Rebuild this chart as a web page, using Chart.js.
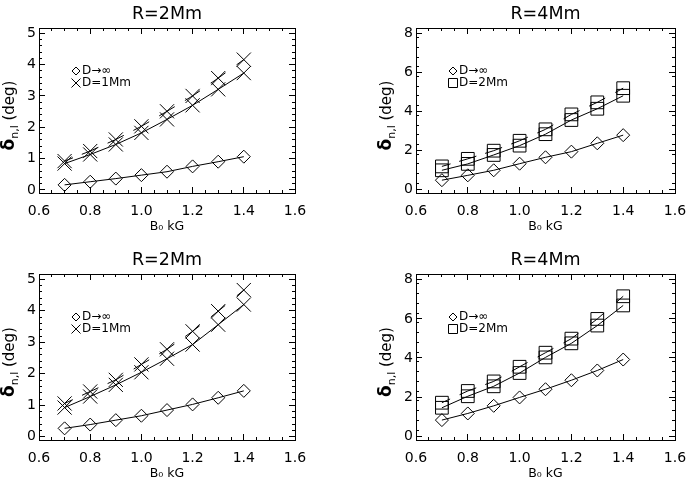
<!DOCTYPE html>
<html><head><meta charset="utf-8">
<script src="https://cdn.jsdelivr.net/npm/chart.js@4.4.1/dist/chart.umd.min.js"></script>
<style>
html,body{margin:0;padding:0;background:#fff;overflow:hidden}
#wrap{position:relative;width:688px;height:490px;overflow:hidden;background:#fff}
canvas{position:absolute}
</style></head><body><div id="wrap">
<canvas id="c1"></canvas><canvas id="c2"></canvas><canvas id="c3"></canvas><canvas id="c4"></canvas>
</div>
<script>
// ---------- data ----------
const bField = [0.7, 0.8, 0.9, 1.0, 1.1, 1.2, 1.3, 1.4];          // B0 (kG)
const xTickValues = [0.6, 0.8, 1.0, 1.2, 1.4, 1.6];
const yTicksR2 = [0, 1, 2, 3, 4, 5];
const yTicksR4 = [0, 2, 4, 6, 8];

// top-left  R=2Mm
const tlInf = [0.16, 0.26, 0.36, 0.47, 0.58, 0.75, 0.90, 1.06];
const tlUp  = [0.92, 1.24, 1.61, 2.03, 2.51, 3.00, 3.57, 4.16];
const tlLo  = [0.84, 1.13, 1.45, 1.82, 2.25, 2.70, 3.21, 3.73];
// top-right R=4Mm
const trInf = [0.46, 0.71, 0.97, 1.31, 1.64, 1.93, 2.36, 2.78];
const trUp  = [1.17, 1.56, 1.98, 2.49, 3.08, 3.85, 4.47, 5.20];
const trLo  = [0.97, 1.30, 1.76, 2.24, 2.83, 3.56, 4.14, 4.81];
// bottom-left R=2Mm
const blInf = [0.27, 0.39, 0.53, 0.67, 0.85, 1.03, 1.24, 1.46];
const blUp  = [1.06, 1.44, 1.81, 2.30, 2.78, 3.35, 3.99, 4.66];
const blLo  = [0.93, 1.28, 1.65, 2.05, 2.48, 2.93, 3.56, 4.20];
// bottom-right R=4Mm
const brInf = [0.82, 1.16, 1.55, 1.98, 2.40, 2.86, 3.36, 3.92];
const brUp  = [1.71, 2.31, 2.80, 3.55, 4.27, 4.99, 6.00, 7.16];
const brLo  = [1.45, 2.04, 2.55, 3.23, 4.03, 4.75, 5.66, 6.69];

const titles = ['R=2Mm', 'R=4Mm', 'R=2Mm', 'R=4Mm'];
const legendInf = 'D→∞';
const legendD = ['D=1Mm', 'D=2Mm', 'D=1Mm', 'D=2Mm'];
const xTitle = 'B₀ kG';

// ---------- layout / style ----------
const FONT = '"DejaVu Sans", sans-serif';
const panels = [
  {id:'c1', x:0,   y:0,   w:344, left:39, right:295, top:28, bottom:193, inf:tlInf, up:tlUp, lo:tlLo, title:titles[0], leg:legendD[0], mark:'crossRot', mr:10, yTicks:yTicksR2, ymin:-0.1, ymax:5.17, yMinor:0.2},
  {id:'c2', x:344, y:0,   w:344, left:72, right:331, top:28, bottom:193, inf:trInf, up:trUp, lo:trLo, title:titles[1], leg:legendD[1], mark:'rect', mr:9, yTicks:yTicksR4, ymin:-0.2, ymax:8.3, yMinor:0.5},
  {id:'c3', x:0,   y:245, w:344, left:39, right:295, top:29, bottom:195, inf:blInf, up:blUp, lo:blLo, title:titles[2], leg:legendD[2], mark:'crossRot', mr:10, yTicks:yTicksR2, ymin:-0.1, ymax:5.17, yMinor:0.2},
  {id:'c4', x:344, y:245, w:344, left:72, right:331, top:29, bottom:195, inf:brInf, up:brUp, lo:brLo, title:titles[3], leg:legendD[3], mark:'rect', mr:9, yTicks:yTicksR4, ymin:-0.2, ymax:8.3, yMinor:0.5}
];
const XAXIS_H = 52;
const TITLE_H = 29.4;

function drawMark(ctx, style, x, y, r) {
  ctx.beginPath();
  if (style === 'rectRot') {
    ctx.moveTo(x - r, y); ctx.lineTo(x, y - r); ctx.lineTo(x + r, y); ctx.lineTo(x, y + r); ctx.closePath();
  } else if (style === 'crossRot') {
    ctx.moveTo(x - r, y - r); ctx.lineTo(x + r, y + r); ctx.moveTo(x + r, y - r); ctx.lineTo(x - r, y + r);
  } else {
    ctx.rect(x - r, y - r, 2 * r, 2 * r);
  }
  ctx.stroke();
}

const decor = {
  id: 'decor',
  afterDraw(chart, args, o) {
    const ctx = chart.ctx, a = chart.chartArea;
    ctx.save();
    ctx.fillStyle = '#000'; ctx.strokeStyle = '#000'; ctx.lineWidth = 1;
    // legend
    ctx.font = '12px ' + FONT; ctx.textBaseline = 'middle'; ctx.textAlign = 'left';
    o.items.forEach((it, i) => {
      const y = a.top + 43 + i * 12;
      drawMark(ctx, it.style, a.left + 37, y, it.r);
      ctx.fillText(it.text, a.left + 43, y);
    });
    // y axis title with subscript
    const pieces = [
      {t:'δ', f:'bold 17px ' + FONT, dy:0},
      {t:'n,l', f:'11px ' + FONT, dy:4},
      {t:' (deg)', f:'15px ' + FONT, dy:0}
    ];
    let total = 0;
    pieces.forEach(p => { ctx.font = p.f; p.w = ctx.measureText(p.t).width; total += p.w; });
    ctx.translate(a.left - 31, (a.top + a.bottom) / 2 + 5);
    ctx.rotate(-Math.PI / 2);
    ctx.textBaseline = 'alphabetic';
    let x = -total / 2;
    pieces.forEach(p => { ctx.font = p.f; ctx.fillText(p.t, x, 5.5 + p.dy); x += p.w; });
    ctx.restore();
  }
};

function pts(arr) { return bField.map((b, i) => ({x: b, y: arr[i]})); }

function axis(pos, min, max, opts) {
  const horiz = pos === 'top' || pos === 'bottom';
  return Object.assign({
    type: 'linear', position: pos, min: min, max: max, weight: 0,
    grid: {display: true, drawOnChartArea: false, drawTicks: true, tickLength: -3, color: '#000', lineWidth: 1},
    border: {display: true, color: '#000', width: 1},
    ticks: {display: false},
    afterFit: s => { if (horiz) s.height = 0; else s.width = 0; s.paddingLeft = s.paddingRight = s.paddingTop = s.paddingBottom = 0; }
  }, opts);
}

panels.forEach(p => {
  const cv = document.getElementById(p.id);
  const h = p.bottom + XAXIS_H;
  cv.width = p.w; cv.height = h;
  cv.style.left = p.x + 'px'; cv.style.top = p.y + 'px';
  cv.style.width = p.w + 'px'; cv.style.height = h + 'px';

  const segDash = {
    borderDash: c => {
      const len = Math.hypot(c.p1.x - c.p0.x, c.p1.y - c.p0.y);
      const s = 9;
      return len > 2 * s ? [s, len - 2 * s, s, 0] : [];
    }
  };
  const common = {borderColor: '#000', borderWidth: 1, pointBorderColor: '#000', pointBackgroundColor: 'rgba(0,0,0,0)', pointBorderWidth: 1, fill: false, tension: 0};

  const majorTicks = vals => (s => { s.ticks = vals.map(v => ({value: v})); });

  new Chart(cv, {
    type: 'line',
    data: {
      datasets: [
        Object.assign({label: legendInf, data: pts(p.inf), pointStyle: 'rectRot', pointRadius: 6.5}, common),
        Object.assign({label: p.leg, data: pts(p.lo), pointStyle: p.mark, pointRadius: p.mr}, common),
        Object.assign({label: p.leg + ' (2)', data: pts(p.up), pointStyle: p.mark, pointRadius: p.mr, segment: segDash}, common)
      ]
    },
    options: {
      responsive: false, animation: false, devicePixelRatio: 1,
      layout: {padding: {left: 0, right: p.w - p.right, top: p.top - TITLE_H, bottom: 0}},
      plugins: {
        legend: {display: false}, tooltip: {enabled: false},
        title: {display: true, text: p.title, color: '#000', font: {family: FONT, size: 17.5, weight: 'normal'}, padding: {top: 5, bottom: 3.4}, fullSize: false},
        decor: {items: [{style: 'rectRot', r: 4, text: legendInf}, {style: p.mark === 'rect' ? 'rect' : 'crossRot', r: 4.5, text: p.leg}]}
      },
      scales: {
        x: axis('bottom', 0.6, 1.6, {
          weight: 1,
          grid: {display: true, drawOnChartArea: false, drawTicks: true, tickLength: -6, color: '#000', lineWidth: 1},
          ticks: {display: true, color: '#000', font: {family: FONT, size: 14}, padding: 15.6, autoSkip: false, maxRotation: 0, callback: v => Number(v).toFixed(1)},
          afterBuildTicks: majorTicks(xTickValues),
          title: {display: true, text: xTitle, color: '#000', font: {family: FONT, size: 12.5}, padding: {top: 0, bottom: 10.5}},
          afterFit: s => { s.height = XAXIS_H; s.paddingLeft = 0; s.paddingRight = 0; }
        }),
        xm: axis('bottom', 0.6, 1.6, {ticks: {display: false, stepSize: 0.05}}),
        xt: axis('top', 0.6, 1.6, {grid: {display: true, drawOnChartArea: false, drawTicks: true, tickLength: -6, color: '#000', lineWidth: 1}, afterBuildTicks: majorTicks(xTickValues)}),
        xtm: axis('top', 0.6, 1.6, {ticks: {display: false, stepSize: 0.05}}),
        y: axis('left', p.ymin, p.ymax, {
          weight: 1,
          grid: {display: true, drawOnChartArea: false, drawTicks: true, tickLength: -6, color: '#000', lineWidth: 1},
          ticks: {display: true, color: '#000', font: {family: FONT, size: 14}, padding: 9, autoSkip: false, callback: v => String(v)},
          afterBuildTicks: majorTicks(p.yTicks),
          afterFit: s => { s.width = p.left; s.paddingTop = 0; s.paddingBottom = 0; }
        }),
        ym: axis('left', p.ymin, p.ymax, {ticks: {display: false, stepSize: p.yMinor}}),
        yr: axis('right', p.ymin, p.ymax, {grid: {display: true, drawOnChartArea: false, drawTicks: true, tickLength: -6, color: '#000', lineWidth: 1}, afterBuildTicks: majorTicks(p.yTicks)}),
        yrm: axis('right', p.ymin, p.ymax, {ticks: {display: false, stepSize: p.yMinor}})
      }
    },
    plugins: [decor]
  });
});
</script>
</body></html>
